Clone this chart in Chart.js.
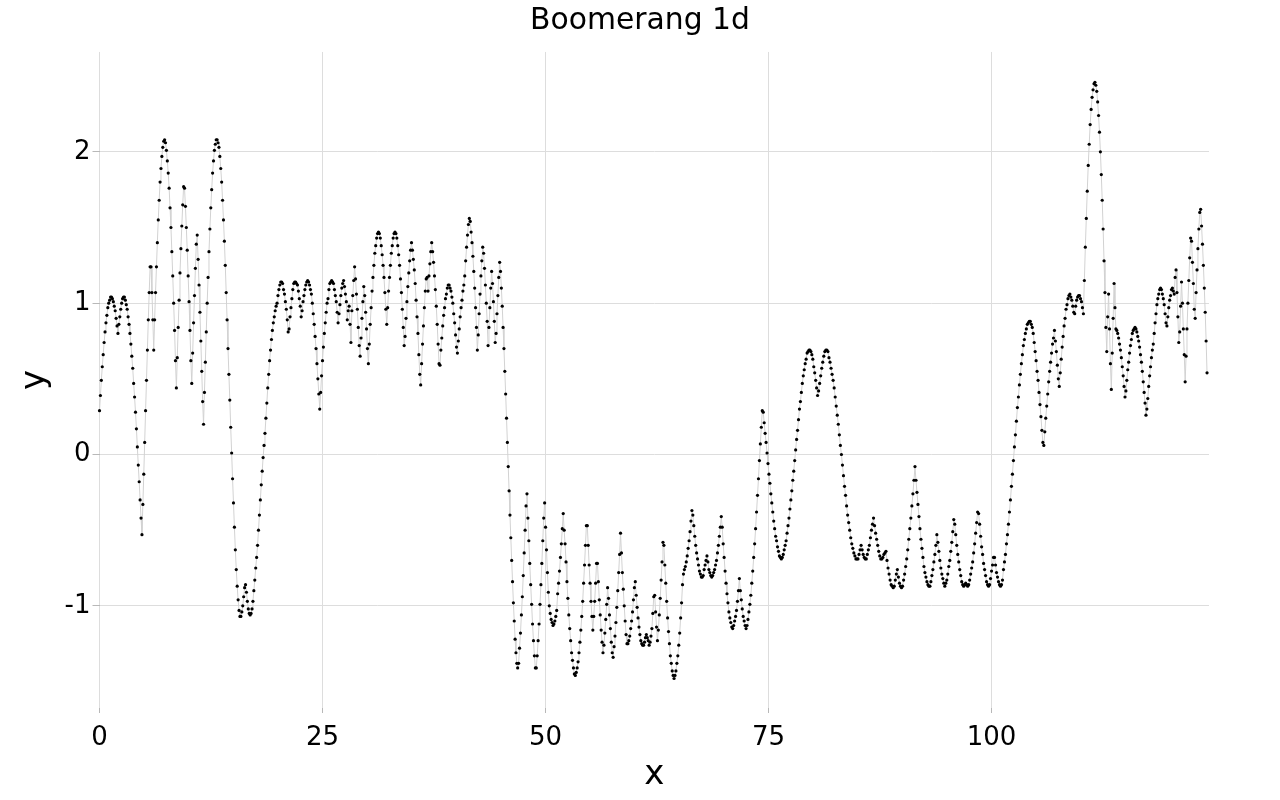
<!DOCTYPE html>
<html><head><meta charset="utf-8">
<script src="https://cdn.jsdelivr.net/npm/chart.js@4"></script>
<style>html,body{margin:0;padding:0;background:#fff}canvas{display:block}</style>
</head><body><canvas id="c" width="1280" height="800"></canvas>
<script>
const chartTitle = "Boomerang 1d";
const xTickValues = [0,25,50,75,100];
const yTickValues = [-1,0,1,2];
const xMax = 124.38, yMin = -1.675, yMax = 2.66;
const segStarts = [0,4.76,14.71,18.55,24.69,41.46,44.86,46.88,53.34,64.41,68.1,74.3,80.5,91.42,104.35,111.49,124.16];
const seg1 = [.29,.39,.49,.58,.66,.74,.81,.87,.92,.97,1,1.02,1.04,1.04,1.03,1.01,.98,.95,.9,.85,.8,.86,.91,.96,1,1.03,1.04,1.04,1.02,.99,.96,.91,.86,.8,.73,.65,.57,.47,.38,.28,.17,.05,-.07,-.18,-.3,-.42];
const seg2 = [-.53,-.33,-.13,.08,.29,.49,.69,.89,1.07,1.24,1.24,1.07,.89,.69,.89,1.07,1.24,1.4,1.55,1.68,1.8,1.89,1.97,2.03,2.07,2.08,2.06,2.01,1.94,1.86,1.76,1.63,1.5,1.34,1.18,1,.82,.62,.44,.64,.84,1.02,1.2,1.36,1.51,1.65,1.77,1.76,1.64,1.5,1.35,1.18,1.01,.82,.62,.47,.67,.87,1.05,1.23,1.39,1.45,1.29,1.12,.94,.75,.55,.35,.2,.41,.61,.81,1,1.17,1.34,1.49,1.63,1.75,1.86,1.94,2.01,2.05,2.08,2.08,2.06,2.03,1.97,1.89,1.8,1.68,1.55,1.41,1.25,1.07,.89,.7,.53,.36];
const seg3 = [.18,.01,-.16,-.32,-.48,-.63,-.76,-.87,-.96,-1.03,-1.07,-1.07,-1.04,-1,-.94,-.88,-.86,-.91,-.97,-1.02,-1.05,-1.06,-1.05,-1.02,-.97,-.9,-.83,-.75,-.68,-.6,-.5,-.4,-.3,-.2,-.11,-.02,.06];
const seg4 = [.14,.24,.34,.44,.53,.62,.69,.76,.82,.87,.91,.95,.98,1,1.05,1.09,1.12,1.14,1.14,1.13,1.09,1.06,1.01,.96,.89,.81,.83,.91,.97,1.03,1.09,1.13,1.14,1.14,1.13,1.12,1.08,1.03,.98,.91,.95,1.01,1.05,1.09,1.12,1.14,1.15,1.14,1.12,1.09,1.06,1,.93,.86,.78,.7,.6,.5,.4];
const seg5 = [.3,.41,.52,.62,.71,.8,.87,.94,1,1.03,1.09,1.13,1.14,1.15,1.14,1.13,1.09,1.05,1.01,.94,.87,.93,.99,1.05,1.1,1.13,1.15,1.11,1.06,1.01,.89,.95,.98,.86,.74,.95,1.05,1.15,1.24,1.16,1.06,.96,.84,.72,.65,.77,.9,1.01,1.11,1.05,.94,.83,.7,.6,.73,.86,.97,1.08,1.17,1.25,1.33,1.38,1.43,1.46,1.47,1.46,1.43,1.38,1.32,1.25,1.17,1.07,.96,.86,.97,1.08,1.17,1.25,1.33,1.38,1.43,1.46,1.47,1.46,1.43,1.38,1.32,1.25,1.16,1.07,.96,.84,.72,.78,.9,1.01,1.11,1.2,1.28,1.35,1.4,1.35,1.29,1.22,1.13,1.02,.91,.8,.66,.53,.46,.6,.73,.85,.97,1.08,1.16,1.17,1.08,1.18,1.26,1.34,1.4,1.34,1.27,1.18,1.09,.98,.86,.73,.6,.59,.69,.77,.85,.92,.97,1.03,1.06,1.1,1.12,1.12,1.1,1.08,1.04,1,.93,.87,.79,.71,.67,.75,.83,.91,.97,1.02,1.08,1.12,1.18,1.28,1.37,1.45,1.52];
const seg6 = [1.56,1.54,1.47,1.4,1.31,1.21,1.1,.97,.84,.69,.79,.93,1.06,1.18,1.28,1.37,1.33,1.23,1.12,1,.88,.72,.84,.97,1.1,1.21,1.13,1.01,.88,.74,.8,.93,1.05,1.17];
const seg7 = [1.27,1.21,1.1,.98,.84,.7,.55,.4,.24,.08,-.08,-.24,-.4,-.55,-.7,-.84,-.98,-1.1,-1.22,-1.31,-1.38];
const seg8 = [-1.41,-1.38,-1.28,-1.18,-1.06,-.94,-.8,-.65,-.5,-.34,-.26,-.42,-.57,-.72,-.86,-.99,-1.12,-1.23,-1.33,-1.41,-1.41,-1.33,-1.23,-1.12,-.99,-.86,-.72,-.57,-.42,-.32,-.48,-.63,-.78,-.91,-1,-1.05,-1.09,-1.11,-1.13,-1.12,-1.1,-1.07,-1.03,-.92,-.85,-.77,-.68,-.59,-.49,-.39,-.5,-.59,-.71,-.84,-.95,-1.06,-1.15,-1.23,-1.31,-1.36,-1.41,-1.45];
const seg9 = [-1.46,-1.44,-1.41,-1.37,-1.31,-1.24,-1.16,-1.07,-.97,-.85,-.73,-.6,-.47,-.47,-.6,-.73,-.85,-.97,-1.07,-1.16,-1.07,-.97,-.85,-.72,-.72,-.84,-.96,-1.06,-1.16,-1.24,-1.31,-1.26,-1.18,-1.09,-.99,-.88,-.95,-1.06,-1.15,-1.24,-1.31,-1.34,-1.27,-1.2,-1.11,-1.01,-.9,-.78,-.66,-.52,-.65,-.78,-.89,-1,-1.1,-1.19,-1.25,-1.25,-1.23,-1.2,-1.15,-1.1,-1.04,-.96,-.88,-.84,-.93,-1.01,-1.08,-1.14,-1.19,-1.23,-1.25,-1.26,-1.26,-1.24,-1.21,-1.19,-1.21,-1.23,-1.26,-1.24,-1.2,-1.15,-1.05,-.94,-.93,-1.04,-1.14,-1.23,-1.16,-1.06,-.95,-.83,-.71,-.58,-.6,-.73,-.85,-.97,-1.08,-1.17,-1.25,-1.33,-1.38,-1.43,-1.46];
const seg10 = [-1.48,-1.46,-1.43,-1.38,-1.33,-1.26,-1.18,-1.08,-.98,-.86,-.79,-.76,-.74,-.71,-.67,-.62,-.57,-.51,-.44,-.37,-.4,-.47,-.54,-.6,-.65,-.69,-.73,-.77,-.79,-.81,-.81,-.8,-.76,-.73,-.7];
const seg11 = [-.67,-.71,-.76,-.78,-.8,-.81,-.8,-.78,-.76,-.73,-.7,-.65,-.6,-.54,-.48,-.41,-.48,-.59,-.68,-.77,-.85,-.92,-.98,-1.04,-1.08,-1.11,-1.14,-1.15,-1.13,-1.1,-1.07,-1.03,-.97,-.9,-.82,-.9,-.96,-1.02,-1.07,-1.1,-1.13,-1.15,-1.13,-1.09,-1.04,-.99,-.93,-.85,-.77,-.68,-.59,-.49,-.38,-.27,-.16,-.04,.07,.18];
const seg12 = [.29,.28,.21,.14,.08,.01,-.06,-.13,-.19,-.26,-.32,-.38,-.44,-.49,-.54,-.57,-.61,-.64,-.67,-.68,-.69,-.68,-.66,-.63,-.6,-.57,-.52,-.47,-.42,-.36,-.3,-.24,-.17,-.11,-.04,.03,.1,.16,.23,.3,.35,.41,.47,.52,.56,.6,.63,.67,.68,.69,.69,.68,.66,.63,.58,.54,.49,.44];
const seg13 = [.39,.42,.47,.52,.57,.61,.65,.68,.69,.69,.68,.64,.61,.57,.53,.49,.44,.38,.32,.26,.2,.13,.06,0,-.07,-.14,-.21,-.27,-.34,-.4,-.45,-.5,-.55,-.59,-.62,-.65,-.67,-.69,-.69,-.69,-.66,-.63,-.6,-.63,-.66,-.68,-.69,-.69,-.66,-.63,-.6,-.55,-.5,-.46,-.42,-.47,-.52,-.56,-.6,-.64,-.67,-.69,-.69,-.68,-.66,-.65,-.64,-.7,-.75,-.79,-.83,-.86,-.87,-.88,-.87,-.83,-.79,-.76,-.81,-.85,-.87,-.88,-.87,-.83,-.79,-.74,-.69,-.63,-.56,-.49,-.42,-.34,-.26,-.17];
const seg14 = [-.08,-.17,-.25,-.33,-.41,-.49,-.56,-.62,-.68,-.74,-.78,-.81,-.84,-.86,-.87,-.87,-.84,-.8,-.76,-.71,-.66,-.6,-.53,-.58,-.64,-.7,-.75,-.79,-.82,-.85,-.87,-.85,-.83,-.79,-.74,-.7,-.64,-.58,-.51,-.43,-.46,-.53,-.6,-.66,-.71,-.76,-.8,-.84,-.86,-.87,-.86,-.85,-.86,-.87,-.86,-.83,-.79,-.75,-.71,-.65,-.59,-.52,-.45,-.38,-.39,-.46,-.54,-.61,-.66,-.72,-.76,-.8,-.84,-.86,-.87,-.86,-.82,-.77,-.73,-.68,-.68,-.73,-.78,-.81,-.84,-.86,-.87,-.86,-.83,-.76,-.71,-.66,-.59,-.53,-.46,-.38,-.3,-.21,-.13,-.04,.05,.13,.22,.31,.38,.46,.53,.6,.66,.72,.76,.8,.83,.86,.87,.88];
const seg15 = [.88,.86,.84,.8,.74,.68,.62,.55,.49,.41,.33,.25,.16,.08,.06,.15,.24,.32,.4,.48,.55,.61,.67,.73,.77,.82,.75,.68,.59,.5,.45,.54,.63,.71,.78,.85,.9,.96,.99,1.03,1.05,1.06,1.04,1.02,.98,.94,.93,.98,1.02,1.04,1.05,1.05,1.03,1.01,.97,.93,1.15,1.37,1.56,1.74,1.91,2.05,2.18,2.28,2.36,2.41];
const seg16 = [2.45,2.46,2.44,2.4,2.33,2.24,2.13,2,1.85,1.68,1.49,1.28,1.07,.84,.68,.91,1.06,.83,.6,.43,.67,.9,1.13,.97,.83,.82,.8,.77,.73,.69,.64,.58,.52,.45,.38,.42,.49,.56,.61,.67,.72,.76,.8,.82,.83,.84,.83,.81,.78,.75,.71,.66,.61,.55,.48,.41,.34,.26,.3,.37,.45,.52,.58,.64,.69,.73,.8,.87,.93,.99,1.03,1.06,1.09,1.1,1.09,1.06,1.03,.99,.93,.87,.85,.91,.97,1.02,1.05,1.09,1.1,1.08,1.06,1.17,1.22,1.07,.91,.74,.81,.98,1.14,1,.83,.66,.48,.65,.83,1,1.15,1.3,1.43,1.41,1.27,1.13,.96,.9,1.07,1.22,1.36,1.49,1.6,1.62,1.51,1.39,1.25,1.1,.94,.75];
const seg17 = [.54];
const segments = [seg1,seg2,seg3,seg4,seg5,seg6,seg7,seg8,seg9,seg10,seg11,seg12,seg13,seg14,seg15,seg16,seg17];

const points = [];
segments.forEach((seg, s) => {
  const x0 = segStarts[s];
  const x1 = s + 1 < segStarts.length ? segStarts[s + 1] : x0;
  seg.forEach((y, j) => points.push({x: x0 + (x1 - x0) * j / seg.length, y}));
});

const fontFamily = '"DejaVu Sans"';
const gridColor = '#dddddd', tickColor = '#b8b8b8';
new Chart(document.getElementById('c'), {
  type: 'scatter',
  data: {datasets: [{
    data: points, showLine: true, tension: 0, borderColor: '#d2d2d2', borderWidth: 1,
    pointRadius: 1.6, pointBackgroundColor: '#000', pointBorderWidth: 0, clip: false
  }]},
  options: {
    responsive: false, animation: false, devicePixelRatio: 1,
    plugins: {
      legend: {display: false}, tooltip: {enabled: false},
      title: {display: true, text: chartTitle, color: '#000', font: {family: fontFamily, size: 29.8, weight: 'normal'}, padding: {top: 3, bottom: 13.2}}
    },
    scales: {
      x: {
        type: 'linear', min: 0, max: xMax,
        afterBuildTicks: s => { s.ticks = xTickValues.map(value => ({value})); },
        afterFit: s => { s.height = 92; },
        grid: {color: gridColor, tickColor, tickLength: 5, lineWidth: 1},
        border: {display: false},
        ticks: {color: '#000', font: {family: fontFamily, size: 26}, padding: 10, maxRotation: 0, autoSkip: false, callback: v => String(v)},
        title: {display: true, text: 'x', color: '#000', font: {family: fontFamily, size: 34}, padding: {top: 0, bottom: 4}}
      },
      y: {
        type: 'linear', min: yMin, max: yMax,
        afterBuildTicks: s => { s.ticks = yTickValues.map(value => ({value})); },
        afterFit: s => { s.width = 99.5; },
        grid: {color: gridColor, tickColor, tickLength: 7, lineWidth: 1},
        border: {display: false},
        ticks: {color: '#000', font: {family: fontFamily, size: 26}, padding: 2, autoSkip: false, callback: v => String(v)},
        title: {display: true, text: 'y', color: '#000', font: {family: fontFamily, size: 34}, padding: {top: 15, bottom: 0}}
      },
      rightGutter: {
        type: 'linear', position: 'right', min: 0, max: 1,
        afterFit: s => { s.width = 71; },
        grid: {display: false}, border: {display: false}, ticks: {display: false}
      }
    }
  }
});
</script></body></html>
